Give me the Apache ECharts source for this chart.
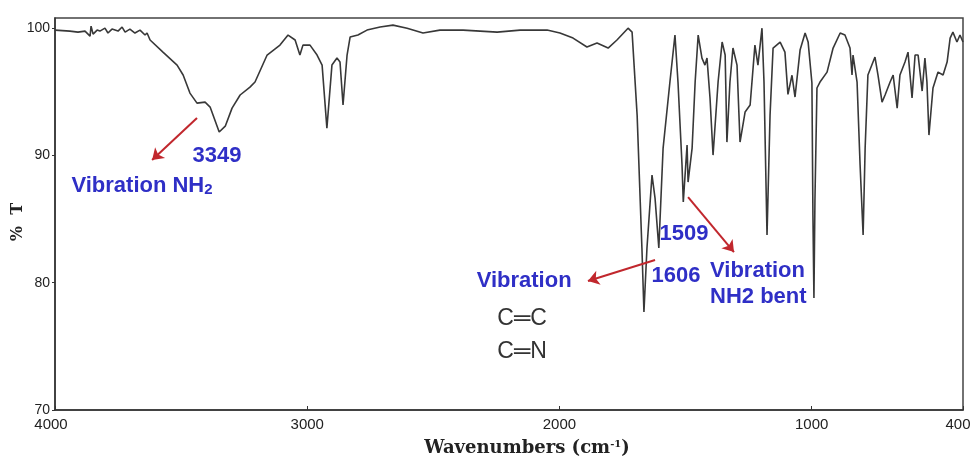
<!DOCTYPE html>
<html>
<head>
<meta charset="utf-8">
<title>FTIR spectrum</title>
<script src="https://cdn.jsdelivr.net/npm/echarts@6/dist/echarts.min.js"></script>
<style>
  html, body { margin: 0; padding: 0; background: #fff; }
  #chart { width: 973px; height: 464px; }
</style>
</head>
<body>
<div id="chart"></div>
<script>
// FTIR transmittance spectrum (wavenumber in cm^-1, %T)
const wavenumbers = [
  4000, 3941, 3909, 3881, 3861, 3857, 3849, 3833, 3822, 3802, 3790, 3774, 3750, 3734, 3722, 3703, 3683, 3663, 3643, 3635,
  3623, 3572, 3516, 3492, 3465, 3437, 3405, 3385, 3349, 3325, 3298, 3266, 3227, 3207, 3159, 3108, 3076, 3048, 3029, 3017,
  2989, 2961, 2941, 2922, 2902, 2882, 2870, 2858, 2842, 2830, 2799, 2763, 2711, 2660, 2604, 2541, 2474, 2382, 2247, 2156,
  2049, 1998, 1946, 1891, 1851, 1807, 1772, 1728, 1712, 1692, 1673, 1665, 1653, 1633, 1621, 1606, 1589, 1562, 1542, 1530,
  1514, 1509, 1494, 1490, 1474, 1462, 1450, 1435, 1423, 1415, 1403, 1391, 1371, 1355, 1343, 1336, 1324, 1312, 1296, 1284,
  1264, 1244, 1225, 1213, 1197, 1189, 1177, 1165, 1153, 1125, 1106, 1094, 1078, 1066, 1046, 1026, 1014, 999, 995, 991,
  987, 979, 967, 939, 915, 887, 868, 848, 840, 836, 820, 808, 796, 788, 777, 749, 737, 721, 709, 689,
  677, 661, 650, 630, 618, 602, 590, 578, 562, 551, 543, 535, 519, 499, 479, 463, 451, 440, 424, 412,
  400
];
const transmittance = [
  99.85, 99.77, 99.69, 99.77, 99.38, 100.16, 99.53, 99.85, 99.77, 100.0, 99.62, 99.93, 99.77, 100.09, 99.69, 99.93, 99.62, 99.85, 99.46, 99.62,
  99.07, 98.12, 97.10, 96.32, 94.90, 94.11, 94.19, 93.80, 91.84, 92.30, 93.72, 94.75, 95.37, 95.77, 97.89, 98.67, 99.46, 99.07, 97.89, 98.67,
  98.67, 97.89, 97.10, 92.15, 97.10, 97.65, 97.34, 93.96, 97.89, 99.30, 99.46, 99.85, 100.09, 100.24, 100.0, 99.62, 99.85, 99.85, 99.69, 99.85,
  99.85, 99.62, 99.22, 98.52, 98.83, 98.44, 99.07, 100.0, 99.69, 93.17, 82.73, 77.70, 82.73, 88.46, 86.65, 82.73, 90.58, 95.77, 99.46, 95.77,
  89.25, 86.34, 90.82, 87.91, 90.58, 95.77, 99.46, 97.65, 97.10, 97.65, 94.51, 90.03, 95.77, 98.91, 97.89, 91.05, 95.77, 98.44, 97.10, 91.05,
  93.41, 93.96, 98.67, 97.10, 100.0, 95.77, 83.75, 93.17, 98.44, 98.91, 98.12, 94.80, 96.30, 94.59, 98.28, 99.62, 98.91, 95.69, 85.32, 78.80,
  86.50, 95.30, 95.77, 96.55, 98.44, 99.62, 99.46, 98.44, 96.32, 97.89, 95.77, 89.25, 83.75, 90.58, 96.32, 97.73, 96.32, 94.19, 94.75, 95.77,
  96.32, 93.72, 96.32, 97.34, 98.12, 94.51, 97.89, 97.89, 95.06, 97.65, 95.77, 91.60, 95.30, 96.55, 96.32, 97.34, 99.22, 99.69, 98.91, 99.46,
  98.91
];

// axis ticks
const xTickValues = [4000, 3000, 2000, 1000, 400];
const yTickValues = [70, 80, 90, 100];

// band assignments: text and anchor point [wavenumber, %T]
const bandTexts = ['3349', 'Vibration NH{sub|2}', '1509', '1606', 'Vibration', 'NH2 bent', 'Vibration'];
const bandAnchors = [
  [3358, 89.95], [3655, 87.60], [1506, 83.83], [1538, 80.53], [1403, 80.92], [1403, 78.88], [2140, 80.13]
];
const bondTexts = ['C═C', 'C═N'];
const bondAnchors = [[2148, 77.15], [2148, 74.56]];

// arrows from band to assignment: [from, to]
const arrowPaths = [
  [[3437, 92.94], [3615, 89.64]],
  [[1490, 86.73], [1308, 82.41]],
  [[1621, 81.78], [1887, 80.13]]
];

const blue = '#2f2fc6';
const sans = 'Liberation Sans, Arial, sans-serif';
const serif = 'DejaVu Serif, Liberation Serif, serif';
const leftAligned = [false, false, false, false, true, true, false];

// end labels sit slightly inside the frame
function xLabel(v) {
  if (v === 400) return '{end|400}';
  if (v === 4000) return '{start|4000}';
  return String(v);
}

const chart = echarts.init(document.getElementById('chart'));

chart.setOption({
  animation: false,
  backgroundColor: '#fff',
  grid: {
    left: 55, right: 10, top: 18, bottom: 54,
    outerBoundsMode: 'none', containLabel: false,
    show: true, borderColor: '#444', borderWidth: 1.5, backgroundColor: 'transparent'
  },
  xAxis: {
    type: 'value', min: 400, max: 4000, inverse: true,
    axisLine: { show: true, lineStyle: { color: '#333', width: 1.5 } },
    axisTick: { show: true, inside: true, length: 4, customValues: xTickValues, lineStyle: { color: '#333' } },
    axisLabel: {
      customValues: xTickValues, margin: 7, formatter: xLabel,
      fontFamily: sans, fontSize: 15, color: '#222',
      rich: {
        end: { fontFamily: sans, fontSize: 15, color: '#222', padding: [0, 10, 0, 0] },
        start: { fontFamily: sans, fontSize: 15, color: '#222', padding: [0, 8, 0, 0] }
      }
    },
    splitLine: { show: false },
    name: 'Wavenumbers (cm{sup|-1})',
    nameLocation: 'middle', nameGap: 29, nameMoveOverlap: false,
    nameTextStyle: {
      fontFamily: serif, fontWeight: 'bold', fontSize: 18, color: '#222',
      padding: [0, 0, 0, 36],
      rich: { sup: { fontFamily: serif, fontWeight: 'bold', fontSize: 10, verticalAlign: 'top', padding: [0, 0, 9, 0] } }
    }
  },
  yAxis: {
    type: 'value', min: 70, max: 100.8,
    axisLine: { show: true, lineStyle: { color: '#333', width: 1.5 } },
    axisTick: { show: true, length: 3, customValues: yTickValues, lineStyle: { color: '#333' } },
    axisLabel: {
      customValues: yTickValues, margin: 5, formatter: v => String(v),
      fontFamily: sans, fontSize: 14, color: '#222'
    },
    splitLine: { show: false },
    name: '%  T', nameLocation: 'middle', nameGap: 29, nameRotate: 90, nameMoveOverlap: false,
    nameTextStyle: {
      fontFamily: serif, fontWeight: 'bold', fontSize: 16, color: '#222',
      padding: [0, 16, 0, 0]
    }
  },
  series: [
    {
      name: 'spectrum', type: 'line', showSymbol: false, silent: true,
      lineStyle: { color: '#383838', width: 1.6 },
      data: wavenumbers.map((w, i) => [w, transmittance[i]]),
      markLine: {
        silent: true, animation: false,
        symbol: ['none', 'arrow'], symbolSize: 11,
        label: { show: false },
        lineStyle: { color: '#c1272d', width: 2, type: 'solid', opacity: 1 },
        itemStyle: { color: '#c1272d' },
        emphasis: { disabled: true },
        data: arrowPaths.map(p => [{ coord: p[0] }, { coord: p[1] }])
      }
    },
    {
      name: 'bands', type: 'scatter', symbolSize: 0, silent: true,
      itemStyle: { opacity: 1 },
      data: bandAnchors.map((a, i) => ({
        value: a,
        label: {
          show: true, formatter: bandTexts[i],
          position: leftAligned[i] ? 'right' : 'inside', distance: 0,
          align: leftAligned[i] ? 'left' : 'center', verticalAlign: 'middle',
          fontFamily: sans, fontWeight: 'bold', fontSize: 22, color: blue,
          rich: { sub: { fontFamily: sans, fontWeight: 'bold', fontSize: 15, color: blue, verticalAlign: 'bottom', padding: [8, 0, 0, 0] } }
        }
      }))
    },
    {
      name: 'bonds', type: 'scatter', symbolSize: 0, silent: true,
      itemStyle: { opacity: 1 },
      data: bondAnchors.map((a, i) => ({
        value: a,
        label: {
          show: true, formatter: bondTexts[i], position: 'inside',
          fontFamily: 'Liberation Sans Narrow, Liberation Sans, Arial, sans-serif', fontSize: 23, color: '#333'
        }
      }))
    }
  ]
});
</script>
</body>
</html>
